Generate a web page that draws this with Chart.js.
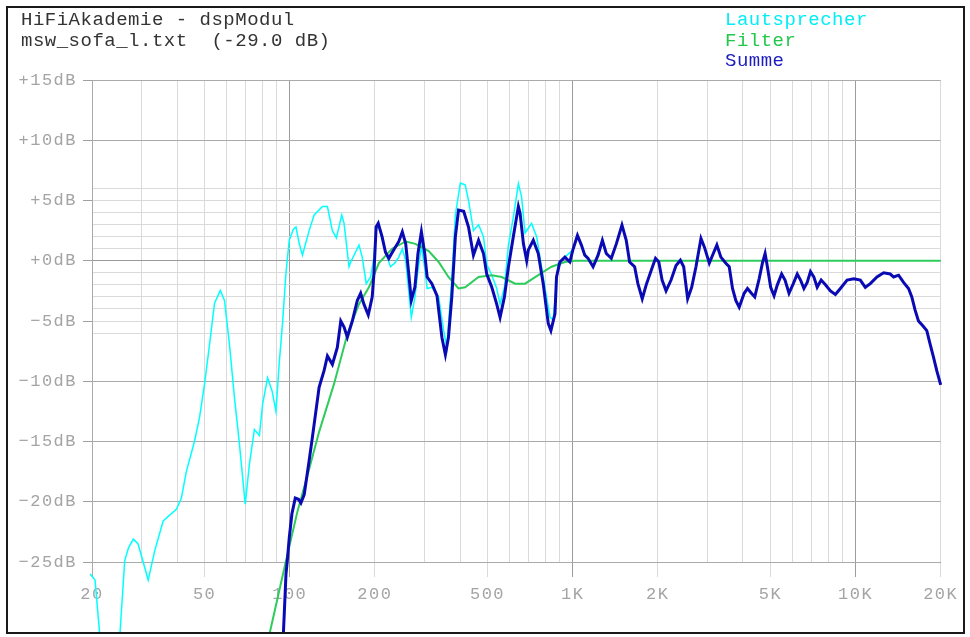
<!DOCTYPE html>
<html>
<head>
<meta charset="utf-8">
<script src="https://cdn.jsdelivr.net/npm/chart.js@4.4.1/dist/chart.umd.min.js"></script>
<style>
  body { margin:0; background:#fff; width:970px; height:637px; position:relative; overflow:hidden; }
  #frame { position:absolute; left:6px; top:6px; width:955px; height:624px; border:2px solid #1a1a1a; overflow:hidden; }
  #c { position:absolute; left:0; top:0; }
  .txt { position:absolute; font-family:"Liberation Mono", monospace; font-size:19px; letter-spacing:0.5px; line-height:20.5px; white-space:pre; }
</style>
</head>
<body>
<div id="frame">
  <canvas id="c" width="955" height="624"></canvas>
  <div class="txt" style="left:13px; top:2px; color:#333;">HiFiAkademie - dspModul
msw_sofa_l.txt  (-29.0 dB)</div>
  <div class="txt" style="left:717px; top:2px;"><span style="color:#00eef6">Lautsprecher</span>
<span style="color:#22c84a">Filter</span>
<span style="color:#1c1cc0">Summe</span></div>
</div>
<script>
// frequency response (Hz / dB)
const lautFreq = [18.6, 19.7, 20.5, 21.3, 23.1, 25.1, 26.1, 26.9, 28.0, 29.1,
  30.3, 31.6, 33.3, 35.7, 39.8, 41.4, 43.1, 46.1, 48.0, 50.0,
  52.1, 54.2, 56.8, 58.8, 61.2, 63.8, 66.4, 69.6, 72.0, 75.0,
  78.1, 80.2, 83.5, 86.6, 89.4, 91.8, 94.3, 97.0, 99.6, 102.9,
  105.2, 108, 110.9, 117.1, 122, 130.5, 135.9, 141.5, 146.2, 152.7,
  155.6, 162, 164.3, 175.7, 180.4, 186.4, 193.2, 198.4, 202, 206.6,
  212, 221, 227, 235, 243, 250, 257, 263.5, 269, 277,
  284, 292, 300, 306, 318, 336, 350, 359, 374, 385,
  401, 417, 428.5, 446, 465, 484, 497, 520, 539, 554,
  574, 593, 617, 643, 660, 679, 716, 746, 798, 832,
  854, 889, 939, 1002];
const lautDb = [-26.5, -26.0, -26.5, -31, -38, -31, -24.9, -23.85, -23.1, -23.5,
  -24.96, -26.5, -24.1, -21.6, -20.6, -19.7, -17.5, -14.96, -13.0, -10.2,
  -6.9, -3.55, -2.46, -3.3, -6.9, -11.4, -15.2, -20.2, -16.9, -14.0,
  -14.5, -11.9, -9.7, -10.8, -12.5, -8.5, -5.2, -1.0, 1.7, 2.6,
  2.8, 1.45, 0.46, 2.5, 3.8, 4.5, 4.5, 2.5, 1.9, 3.8,
  3.1, -0.5, -0.1, 1.3, 0.3, -1.9, -1.35, 0.3, 2.6, 2.9,
  1.8, 0.3, -0.5, -0.2, 0.3, 1.0, 0.0, -2.6, -4.7, -3.0,
  -0.8, 1.2, -0.6, -2.3, -2.2, -3.0, -5.8, -7.2, -1.5, 3.8,
  6.45, 6.3, 5.0, 2.5, 3.0, 2.0, -0.3, -1.3, -2.3, -3.6,
  -2.2, 1.3, 3.6, 6.4, 5.3, 2.3, 3.1, 2.0, -2.2, -4.7,
  -4.9, -0.2, 0.3, 0.9];

const filterFreq = [82, 97, 106.5, 117.1, 127, 143.5, 159.8, 175.7, 190.5, 206.6,
  230, 257, 278, 310, 336, 364, 395, 417, 465, 518,
  561.5, 626, 679, 756, 842, 939, 1018, 2000, 5000, 20000];
const filterDb = [-32.5, -24.9, -20.8, -17.3, -14.2, -10.2, -6.1, -3.6, -2.2, -0.2,
  1.0, 1.6, 1.4, 0.8, -0.1, -1.35, -2.3, -2.2, -1.35, -1.2,
  -1.35, -1.9, -1.9, -1.2, -0.5, -0.1, 0, 0, 0, 0];

const summeFreq = [94.5, 95.6, 97.0, 98.2, 99.6, 101.8, 104.6, 107.4, 109.5, 112.5,
  117.1, 120, 127, 132.3, 135.9, 141.5, 147.3, 151.5, 155.6, 159.8,
  166.4, 173.3, 178.1, 182.9, 189.5, 195.7, 198.4, 202, 205.5, 212,
  218, 224, 233, 243, 250, 257, 263.5, 269, 277, 284,
  292, 300, 306, 318, 331.5, 345, 355, 364, 374, 385,
  395, 412, 428.5, 446, 465, 484, 497, 518, 539, 554,
  574, 593, 617, 643, 652, 670, 688, 697.5, 726, 756,
  787, 820, 838, 866, 877, 901.5, 939, 977.5, 1002, 1040,
  1074, 1104, 1134, 1181, 1230, 1274, 1315, 1370, 1427, 1494,
  1547, 1590, 1656, 1701, 1762, 1820, 1895, 1963, 2016, 2071,
  2139, 2228, 2320, 2404, 2469, 2550, 2635, 2729, 2842, 2921,
  3042, 3142, 3235, 3342, 3480, 3577, 3674, 3774, 3879, 4040,
  4150, 4285, 4403, 4563, 4686, 4790, 4880, 5012, 5152, 5292,
  5480, 5633, 5819, 6026, 6223, 6391, 6570, 6748, 6931, 7125,
  7318, 7559, 7828, 8152, 8489, 8840, 9335, 9856, 10397, 10830,
  11275, 11905, 12570, 13264, 13636, 14197, 14783, 15394, 15810, 16240,
  16690, 17290, 17860, 18340, 18860, 19360, 20000];
const summeDb = [-32, -29.4, -26.0, -24.7, -23.0, -21.0, -19.7, -19.8, -20.1, -19.4,
  -16.6, -14.8, -10.5, -9.1, -7.9, -8.6, -7.2, -5.0, -5.5, -6.35,
  -5.0, -3.3, -2.7, -3.6, -4.5, -3.0, -1.1, 2.8, 3.1, 2.0,
  0.7, 0.2, 0.9, 1.6, 2.4, 1.4, -1.1, -3.3, -2.2, 0.6,
  2.4, 0.6, -1.35, -1.9, -2.9, -6.35, -7.8, -6.35, -3.0, 2.0,
  4.2, 4.1, 2.8, 0.46, 1.7, 0.6, -1.1, -2.2, -3.6, -4.7,
  -3.0, -0.5, 2.0, 4.5, 3.95, 1.4, 0.0, 0.9, 1.7, 0.6,
  -1.9, -5.2, -5.8, -4.4, -1.35, -0.1, 0.3, -0.1, 0.9, 2.1,
  1.3, 0.46, 0.2, -0.5, 0.46, 1.7, 0.6, 0.2, 1.4, 2.96,
  1.7, -0.1, -0.5, -1.9, -3.15, -2.0, -0.8, 0.2, -0.1, -1.6,
  -2.5, -1.6, -0.4, 0.04, -0.5, -3.15, -2.2, -0.5, 1.85, 1.15,
  -0.2, 0.6, 1.3, 0.3, -0.2, -0.5, -2.3, -3.3, -3.85, -2.7,
  -2.3, -2.7, -3.0, -1.5, -0.2, 0.6, -0.5, -2.2, -2.9, -2.0,
  -1.1, -1.6, -2.7, -1.9, -1.1, -1.6, -2.3, -1.8, -0.9, -1.35,
  -2.2, -1.6, -2.0, -2.5, -2.8, -2.3, -1.6, -1.5, -1.6, -2.2,
  -1.9, -1.35, -1.0, -1.1, -1.35, -1.2, -1.8, -2.3, -3.0, -4.1,
  -5.0, -5.4, -5.8, -6.9, -8.0, -9.1, -10.3];

// axis grid / labels
const xTicks = [20, 30, 40, 50, 60, 70, 80, 90, 100, 200, 300, 400, 500, 600, 700, 800, 900,
  1000, 2000, 3000, 4000, 5000, 6000, 7000, 8000, 9000, 10000, 20000];
const xLabels = { 20: '20', 50: '50', 100: '100', 200: '200', 500: '500', 1000: '1K',
  2000: '2K', 5000: '5K', 10000: '10K', 20000: '20K' };
const yTicks = [-25, -20, -15, -10, -6, -5, -4, -3, -2, -1, 0, 1, 2, 3, 4, 5, 6, 10, 15];

const pts = (fs, ds) => fs.map((f, i) => ({ x: f, y: ds[i] }));
const FONT = { family: '"Liberation Mono", monospace', size: 17 };
const majorX = v => [100, 1000, 10000].includes(v);
const xGridColor = v => majorX(v) ? '#9c9c9c' : (v === 20 ? '#aaaaaa' : '#dadada');

// wider glyph spacing like the original bitmap font
const spacing = { id: 'spacing', beforeDraw(chart) { chart.ctx.letterSpacing = '1.5px'; } };

new Chart(document.getElementById('c'), {
  type: 'line',
  data: {
    datasets: [
      { label: 'Summe', data: pts(summeFreq, summeDb), borderColor: '#0a0ab4', borderWidth: 3, order: 0 },
      { label: 'Filter', data: pts(filterFreq, filterDb), borderColor: '#2ecc5c', borderWidth: 2, order: 1 },
      { label: 'Lautsprecher', data: pts(lautFreq, lautDb), borderColor: '#00ffff', borderWidth: 1.5, order: 2 },
    ]
  },
  options: {
    responsive: false,
    animation: false,
    datasets: { line: { pointRadius: 0, tension: 0, clip: false } },
    layout: { padding: { top: 72, right: 20, left: 0, bottom: 0 } },
    plugins: { legend: { display: false }, tooltip: { enabled: false } },
    scales: {
      x: {
        type: 'logarithmic', min: 20, max: 20000,
        afterFit: s => { s.height = 70; },
        afterBuildTicks: s => { s.ticks = xTicks.map(v => ({ value: v })); },
        ticks: { autoSkip: false, maxRotation: 0, minRotation: 0, padding: 7, color: '#a4a4a4', font: FONT,
          callback: v => xLabels[v] || '' },
        grid: {
          tickLength: 15,
          color: c => xGridColor(c.tick.value),
          tickColor: c => xLabels[c.tick.value] ? xGridColor(c.tick.value) : 'rgba(0,0,0,0)'
        },
        border: { color: '#aaaaaa' }
      },
      y: {
        type: 'linear', min: -25, max: 15,
        afterFit: s => { s.width = 84; },
        afterBuildTicks: s => { s.ticks = yTicks.map(v => ({ value: v })); },
        ticks: { autoSkip: false, padding: 6, color: '#a4a4a4', font: FONT,
          callback: v => v % 5 === 0 ? (v < 0 ? '\u2212' + (-v) : '+' + v) + 'dB' : '' },
        grid: {
          tickLength: 9,
          color: c => c.tick.value === 0 ? '#999999' : (Math.abs(c.tick.value) >= 10 ? '#aaaaaa' : '#dadada'),
          tickColor: c => c.tick.value % 5 === 0 ? '#a0a0a0' : 'rgba(0,0,0,0)'
        },
        border: { color: '#aaaaaa' }
      }
    }
  },
  plugins: [spacing]
});
</script>
</body>
</html>
